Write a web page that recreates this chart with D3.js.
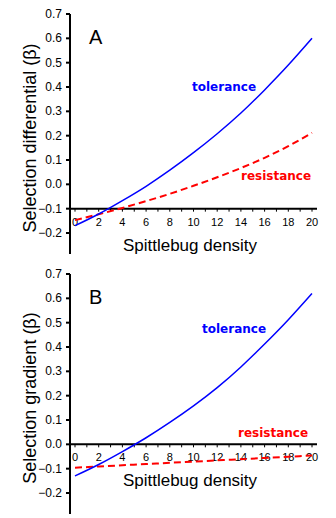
<!DOCTYPE html>
<html>
<head>
<meta charset="utf-8">
<script src="https://cdn.jsdelivr.net/npm/d3@7"></script>
<style>
  body { margin: 0; background: #fff; }
  svg text { font-family: "Liberation Sans", Arial, sans-serif; }
  .lbl { font-family: "DejaVu Sans", Verdana, sans-serif !important; font-weight: bold; font-size: 12px; }
</style>
</head>
<body>
<div id="graph"></div>
<script>
// data
const density = [0, 2, 4, 6, 8, 10, 12, 14, 16, 18, 20];
const yTicks = [0.7, 0.6, 0.5, 0.4, 0.3, 0.2, 0.1, 0.0, -0.1, -0.2];
const xTicks = [0, 2, 4, 6, 8, 10, 12, 14, 16, 18, 20];

const tolA = [-0.170, -0.122, -0.067, -0.008, 0.058, 0.130, 0.208, 0.293, 0.388, 0.490, 0.600];
const resA = [-0.147, -0.123, -0.097, -0.069, -0.039, -0.006, 0.029, 0.067, 0.109, 0.157, 0.212];
const tolB = [-0.130, -0.083, -0.030, 0.027, 0.090, 0.158, 0.233, 0.318, 0.412, 0.512, 0.620];
const resB = [-0.096, -0.091, -0.086, -0.081, -0.076, -0.071, -0.066, -0.061, -0.056, -0.051, -0.046];

const panels = [
  {letter: "A", ylab: "Selection differential (\u03b2)", top: 14, axisAt: -0.1, tol: tolA, res: resA,
   tolPos: [192, 87], resPos: [241, 176]},
  {letter: "B", ylab: "Selection gradient (\u03b2)", top: 274, axisAt: 0.0, tol: tolB, res: resB,
   tolPos: [202, 329], resPos: [238, 433]}
];

const svg = d3.select("#graph").append("svg")
  .attr("width", 336).attr("height", 518);

const x = d3.scaleLinear().domain([0, 20]).range([75, 312]);

panels.forEach(function(p) {
  const y = d3.scaleLinear().domain([0.7, -0.2]).range([p.top, p.top + 219]);
  const g = svg.append("g");

  // y axis
  g.append("line").attr("x1", 70).attr("x2", 70)
    .attr("y1", p.top).attr("y2", p.top + 240)
    .attr("stroke", "#000").attr("stroke-width", 2);
  g.selectAll(".yt").data(yTicks).enter().append("line")
    .attr("x1", 66).attr("x2", 70)
    .attr("y1", d => y(d)).attr("y2", d => y(d))
    .attr("stroke", "#000").attr("stroke-width", 2);
  g.selectAll(".yl").data(yTicks).enter().append("text")
    .attr("x", 62).attr("y", d => y(d) + 4)
    .attr("text-anchor", "end").attr("font-size", 12)
    .text(d => d3.format(".1f")(d));

  // x axis
  const ay = y(p.axisAt);
  g.append("line").attr("x1", 70).attr("x2", 317)
    .attr("y1", ay).attr("y2", ay)
    .attr("stroke", "#000").attr("stroke-width", 2);
  g.selectAll(".xt").data(d3.range(0, 21)).enter().append("line")
    .attr("x1", d => x(d)).attr("x2", d => x(d))
    .attr("y1", ay).attr("y2", ay + 3)
    .attr("stroke", "#000").attr("stroke-width", 1);
  g.selectAll(".xl").data(xTicks).enter().append("text")
    .attr("x", d => x(d)).attr("y", ay + 17)
    .attr("text-anchor", "middle").attr("font-size", 11)
    .text(d => d);

  // titles
  g.append("text").attr("x", 190).attr("y", ay + 42)
    .attr("text-anchor", "middle").attr("font-size", 17)
    .text("Spittlebug density");
  g.append("text")
    .attr("transform", "translate(36," + (p.top + 124) + ") rotate(-90)")
    .attr("text-anchor", "middle").attr("font-size", 18)
    .text(p.ylab);
  g.append("text").attr("x", 89).attr("y", p.top + 30)
    .attr("font-size", 20).text(p.letter);

  // curves
  const line = d3.line().x((d, i) => x(density[i])).y(d => y(d)).curve(d3.curveNatural);
  g.append("path").datum(p.res).attr("d", line)
    .attr("fill", "none").attr("stroke", "#ff0000")
    .attr("stroke-width", 2).attr("stroke-dasharray", "7,4");
  g.append("path").datum(p.tol).attr("d", line)
    .attr("fill", "none").attr("stroke", "#0000ff").attr("stroke-width", 1.5);

  g.append("text").attr("class", "lbl").attr("x", p.tolPos[0]).attr("y", p.tolPos[1] + 4)
    .attr("fill", "#0000ff").text("tolerance");
  g.append("text").attr("class", "lbl").attr("x", p.resPos[0]).attr("y", p.resPos[1] + 4)
    .attr("fill", "#ff0000").text("resistance");
});
</script>
</body>
</html>
